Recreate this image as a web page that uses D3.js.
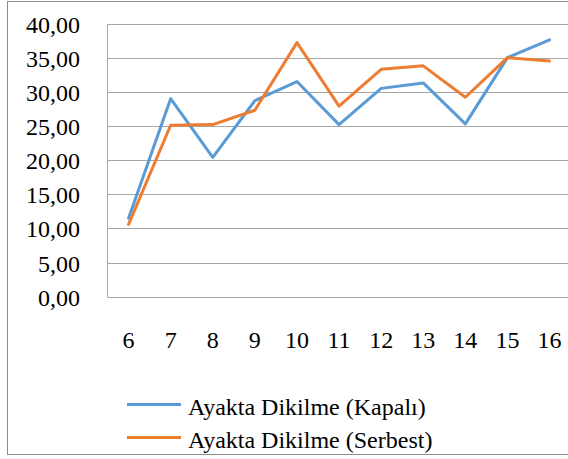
<!DOCTYPE html>
<html>
<head>
<meta charset="utf-8">
<script src="https://cdn.jsdelivr.net/npm/d3@7"></script>
</head>
<body style="margin:0">
<script>
// Data
const ages = ["6", "7", "8", "9", "10", "11", "12", "13", "14", "15", "16"];
const kapali = [11.5, 29.0, 20.4, 28.7, 31.5, 25.2, 30.5, 31.3, 25.3, 35.0, 37.6];
const serbest = [10.6, 25.1, 25.2, 27.3, 37.2, 27.9, 33.3, 33.8, 29.2, 35.0, 34.5];
const yTicks = [0, 5, 10, 15, 20, 25, 30, 35, 40];
const seriesNames = ["Ayakta Dikilme (Kapalı)", "Ayakta Dikilme (Serbest)"];
const colors = ["#5b9bd5", "#ed7d31"];

const W = 568, H = 459;
const plot = { left: 107.5, right: 570.6, top: 23.5, bottom: 296.7 };

const svg = d3.select("body")
    .append("svg")
    .attr("width", W)
    .attr("height", H)
    .attr("font-family", "Liberation Serif");

// Outer chart border
svg.append("rect")
    .attr("x", 7.5)
    .attr("y", 1.5)
    .attr("width", 600)
    .attr("height", 453)
    .attr("fill", "none")
    .attr("stroke", "#8c8c8c")
    .attr("stroke-width", 1);

// Scales
const x = d3.scaleBand()
    .domain(ages)
    .range([plot.left, plot.right])
    .padding(0);

const y = d3.scaleLinear()
    .domain([0, 40])
    .range([plot.bottom, plot.top]);

// Gridlines
svg.selectAll(".grid")
    .data(yTicks)
    .join("line")
    .attr("class", "grid")
    .attr("x1", plot.left)
    .attr("x2", plot.right)
    .attr("y1", d => Math.round(y(d)) + 0.5)
    .attr("y2", d => Math.round(y(d)) + 0.5)
    .attr("stroke", "#a6a6a6")
    .attr("stroke-width", 1);

// Left axis line
svg.append("line")
    .attr("x1", plot.left)
    .attr("x2", plot.left)
    .attr("y1", Math.round(plot.top) + 0.5)
    .attr("y2", Math.round(plot.bottom) + 0.5)
    .attr("stroke", "#a6a6a6");

// Y tick labels
svg.selectAll(".ylab")
    .data(yTicks)
    .join("text")
    .attr("class", "ylab")
    .attr("x", 80)
    .attr("y", d => y(d) + 9)
    .attr("text-anchor", "end")
    .attr("font-size", 24)
    .attr("font-family", d => "Liberation Serif")
    .text(d => d.toFixed(2).replace(".", ","));

// X tick labels
svg.selectAll(".xlab")
    .data(ages)
    .join("text")
    .attr("class", "xlab")
    .attr("x", d => x(d) + x.bandwidth() / 2)
    .attr("y", 347.5)
    .attr("text-anchor", "middle")
    .attr("font-size", 24)
    .attr("font-family", d => "Times New Roman")
    .text(d => d);

// Lines
const line = d3.line()
    .x((d, i) => x(ages[i]) + x.bandwidth() / 2)
    .y(d => y(d));

[kapali, serbest].forEach((vals, i) => {
    svg.append("path")
        .datum(vals)
        .attr("fill", "none")
        .attr("stroke", colors[i])
        .attr("stroke-width", 3)
        .attr("stroke-linejoin", "round")
        .attr("stroke-linecap", "round")
        .attr("d", line);
});

// Legend
seriesNames.forEach((name, i) => {
    const ly = 404.5 + i * 33;
    svg.append("line")
        .attr("x1", 127)
        .attr("x2", 181)
        .attr("y1", ly)
        .attr("y2", ly)
        .attr("stroke", colors[i])
        .attr("stroke-width", 3);
    svg.append("text")
        .attr("x", 188)
        .attr("y", ly + 10.5)
        .attr("font-size", 24)
        .attr("font-family", "serif")
        .text(name);
});
</script>
</body>
</html>
